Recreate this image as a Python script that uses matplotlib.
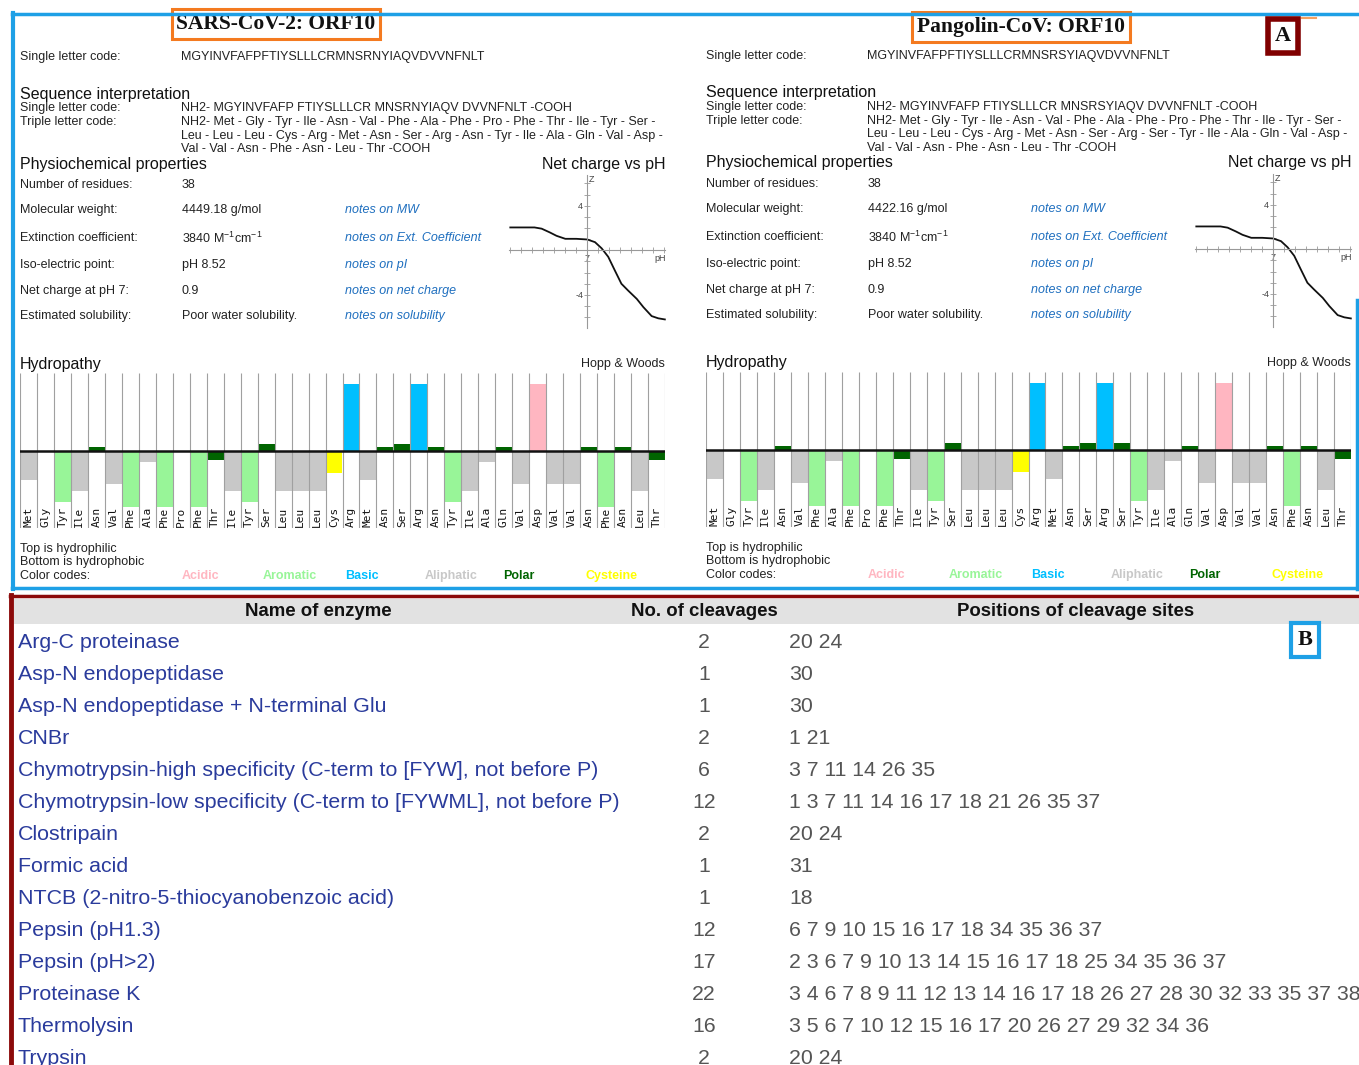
import numpy as np
import matplotlib.pyplot as plt
from matplotlib.patches import Rectangle

plt.rcParams['font.family'] = ['Liberation Sans', 'DejaVu Sans']

W, H = 1359, 1065

# sequences of the two ORF10 proteins
sars_seq = "MGYINVFAFPFTIYSLLLCRMNSRNYIAQVDVVNFNLT"
pang_seq = "MGYINVFAFPFTIYSLLLCRMNSRSYIAQVDVVNFNLT"
sars_mw = "4449.18 g/mol"
pang_mw = "4422.16 g/mol"

three_letter = {'M': 'Met', 'G': 'Gly', 'Y': 'Tyr', 'I': 'Ile', 'N': 'Asn', 'V': 'Val',
                'F': 'Phe', 'A': 'Ala', 'P': 'Pro', 'T': 'Thr', 'S': 'Ser', 'L': 'Leu',
                'C': 'Cys', 'R': 'Arg', 'Q': 'Gln', 'D': 'Asp'}

# Hopp & Woods hydropathy values
hopp_woods = {'Met': -1.3, 'Gly': 0.0, 'Tyr': -2.3, 'Ile': -1.8, 'Asn': 0.2, 'Val': -1.5,
              'Phe': -2.5, 'Ala': -0.5, 'Pro': 0.0, 'Thr': -0.4, 'Ser': 0.3, 'Leu': -1.8,
              'Cys': -1.0, 'Arg': 3.0, 'Gln': 0.2, 'Asp': 3.0}
residue_class = {'Met': 'Aliphatic', 'Gly': 'Aliphatic', 'Tyr': 'Aromatic', 'Ile': 'Aliphatic',
                 'Asn': 'Polar', 'Val': 'Aliphatic', 'Phe': 'Aromatic', 'Ala': 'Aliphatic',
                 'Pro': 'Aliphatic', 'Thr': 'Polar', 'Ser': 'Polar', 'Leu': 'Aliphatic',
                 'Cys': 'Cysteine', 'Arg': 'Basic', 'Gln': 'Polar', 'Asp': 'Acidic'}
class_names = ['Acidic', 'Aromatic', 'Basic', 'Aliphatic', 'Polar', 'Cysteine']
class_colors = {'Acidic': '#ffb6c1', 'Aromatic': '#98f598', 'Basic': '#00bfff',
                'Aliphatic': '#c8c8c8', 'Polar': '#006400', 'Cysteine': '#ffff00'}

prop_labels = ['Number of residues:', 'Molecular weight:', 'Extinction coefficient:',
               'Iso-electric point:', 'Net charge at pH 7:', 'Estimated solubility:']
prop_notes = ['', 'notes on MW', 'notes on Ext. Coefficient', 'notes on pI',
              'notes on net charge', 'notes on solubility']
ext_coef = r"3840 M$^{\mathregular{-1}}$cm$^{\mathregular{-1}}$"

# net charge vs pH curve (same for both)
ph_points = [0.0, 2.2, 2.85, 3.6, 4.2, 5.0, 6.0, 7.0, 7.7, 8.3, 8.9, 9.5, 10.1, 10.7, 11.5, 12.1, 12.85, 13.45, 14.05]
z_points = [2.05, 2.05, 1.94, 1.6, 1.3, 1.03, 1.03, 0.97, 0.73, 0.18, -0.58, -1.8, -3.0, -3.6, -4.36, -5.1, -5.9, -6.1, -6.2]

# enzyme cleavage table
enzymes = ['Arg-C proteinase', 'Asp-N endopeptidase', 'Asp-N endopeptidase + N-terminal Glu', 'CNBr',
           'Chymotrypsin-high specificity (C-term to [FYW], not before P)',
           'Chymotrypsin-low specificity (C-term to [FYWML], not before P)',
           'Clostripain', 'Formic acid', 'NTCB (2-nitro-5-thiocyanobenzoic acid)', 'Pepsin (pH1.3)',
           'Pepsin (pH>2)', 'Proteinase K', 'Thermolysin', 'Trypsin']
n_cleavages = [2, 1, 1, 2, 6, 12, 2, 1, 1, 12, 17, 22, 16, 2]
cleavage_sites = ['20 24', '30', '30', '1 21', '3 7 11 14 26 35', '1 3 7 11 14 16 17 18 21 26 35 37',
                  '20 24', '31', '18', '6 7 9 10 15 16 17 18 34 35 36 37',
                  '2 3 6 7 9 10 13 14 15 16 17 18 25 34 35 36 37',
                  '3 4 6 7 8 9 11 12 13 14 16 17 18 26 27 28 30 32 33 35 37 38',
                  '3 5 6 7 10 12 15 16 17 20 26 27 29 32 34 36', '20 24']

fig = plt.figure(figsize=(W / 100, H / 100), dpi=100)
base = fig.add_axes([0, 0, 1, 1])
base.set_xlim(0, W)
base.set_ylim(H, 0)
base.axis('off')


def fig_axes(x0, y0, x1, y1):
    return fig.add_axes([x0 / W, 1 - y1 / H, (x1 - x0) / W, (y1 - y0) / H])


TXT = '#222222'
LINK = '#1f6fbf'


def draw_panel(x0, y0, title, title_x, title_y, seq, mw):
    res = [three_letter[c] for c in seq]
    base.text(title_x, title_y, title, family='Liberation Serif', fontweight='bold', fontsize=15.5,
              ha='center', va='center', color='#111',
              bbox=dict(boxstyle='square,pad=0.22', fc='white', ec='#f47a20', lw=2.2), zorder=3)

    fs = 9
    hfs = 11.5
    base.text(x0 + 20, y0 + 57, 'Single letter code:', fontsize=fs, va='center', color=TXT)
    base.text(x0 + 181, y0 + 57, seq, fontsize=fs, va='center', color=TXT)

    base.text(x0 + 20, y0 + 94, 'Sequence interpretation', fontsize=hfs, va='center', color='#111')
    groups = ' '.join(seq[i:i + 10] for i in range(0, len(seq), 10))
    base.text(x0 + 20, y0 + 108, 'Single letter code:', fontsize=fs, va='center', color=TXT)
    base.text(x0 + 181, y0 + 108, 'NH2- ' + groups + ' -COOH', fontsize=fs, va='center', color=TXT)
    base.text(x0 + 20, y0 + 122, 'Triple letter code:', fontsize=fs, va='center', color=TXT)
    lines = ['NH2- ' + ' - '.join(res[0:15]) + ' -',
             ' - '.join(res[15:31]) + ' -',
             ' - '.join(res[31:]) + ' -COOH']
    for k, ln in enumerate(lines):
        base.text(x0 + 181, y0 + 122 + 13.5 * k, ln, fontsize=fs, va='center', color=TXT)

    base.text(x0 + 20, y0 + 164, 'Physiochemical properties', fontsize=hfs, va='center', color='#111')
    base.text(x0 + 665, y0 + 164, 'Net charge vs pH', fontsize=hfs, va='center', ha='right', color='#111')
    values = [str(len(seq)), mw, ext_coef, 'pH 8.52', '0.9', 'Poor water solubility.']
    prop_y = [185, 210, 238, 265, 291, 316]
    for lab, val, note, yy in zip(prop_labels, values, prop_notes, prop_y):
        base.text(x0 + 20, y0 + yy, lab, fontsize=fs, va='center', color=TXT)
        base.text(x0 + 182, y0 + yy, val, fontsize=fs, va='center', color=TXT)
        if note:
            base.text(x0 + 345, y0 + yy, note, fontsize=fs, va='center', color=LINK, style='italic')

    # net charge vs pH
    vx, hz = x0 + 587.3, y0 + 250.3
    px, pz = 11.0, 11.15
    nc = fig_axes(vx - 7.6 * px, hz - 7.1 * pz, vx + 7.4 * px, hz + 7.4 * pz)
    nc.set_xlim(-0.6, 14.4)
    nc.set_ylim(-7.4, 7.1)
    nc.patch.set_alpha(0)
    for s in ['top', 'right']:
        nc.spines[s].set_visible(False)
    nc.spines['left'].set_position(('data', 7))
    nc.spines['bottom'].set_position(('data', 0))
    nc.spines['left'].set_bounds(-6.95, 6.75)
    nc.spines['bottom'].set_bounds(-0.1, 14.1)
    for s in ['left', 'bottom']:
        nc.spines[s].set_color('#999999')
        nc.spines[s].set_linewidth(0.8)
    nc.set_xticks(range(0, 15))
    nc.set_xticklabels(['7' if t == 7 else '' for t in range(0, 15)])
    nc.set_yticks(range(-6, 7))
    nc.set_yticklabels([{4: '4', -4: '-4'}.get(t, '') for t in range(-6, 7)])
    nc.tick_params(direction='inout', length=4, width=0.6, color='#999999', labelsize=6.5,
                   labelcolor='#444444', pad=1)
    nc.text(7.15, 6.75, 'Z', fontsize=6.5, color='#444', va='top')
    nc.text(13.1, -0.3, 'pH', fontsize=6.5, color='#444', va='top')
    nc.plot(ph_points, z_points, color='#111111', lw=1.3)

    # hydropathy
    base.text(x0 + 20, y0 + 364, 'Hydropathy', fontsize=hfs, va='center', color='#111')
    base.text(x0 + 665, y0 + 364, 'Hopp & Woods', fontsize=fs, va='center', ha='right', color=TXT)
    unit = 22.3
    top, bot = (451 - 373) / unit, -(528 - 451) / unit
    hy = fig_axes(x0 + 20, y0 + 373, x0 + 665, y0 + 528)
    hy.set_xlim(0, len(res))
    hy.set_ylim(bot, top)
    hy.axis('off')
    vals = [hopp_woods[r] for r in res]
    cols = [class_colors[residue_class[r]] for r in res]
    hy.bar(np.arange(len(res)) + 0.5, vals, width=1.0, color=cols, edgecolor='none')
    hy.vlines(range(len(res) + 1), bot, top, color='#a0a0a0', lw=0.8)
    hy.axhline(0, color='#111111', lw=1.8)
    for i, r in enumerate(res):
        hy.text(i + 0.5, bot + 0.05, r, rotation=90, ha='center', va='bottom',
                family='DejaVu Sans Mono', fontsize=8, color='#111')

    base.text(x0 + 20, y0 + 549, 'Top is hydrophilic', fontsize=fs, va='center', color=TXT)
    base.text(x0 + 20, y0 + 562, 'Bottom is hydrophobic', fontsize=fs, va='center', color=TXT)
    base.text(x0 + 20, y0 + 576, 'Color codes:', fontsize=fs, va='center', color=TXT)
    legend_x = [182, 263, 345, 425, 503, 585]
    for name, lx in zip(class_names, legend_x):
        base.text(x0 + lx, y0 + 576, name, fontsize=9, fontweight='bold', va='center',
                  color=class_colors[name])


draw_panel(0, 0, 'SARS-CoV-2: ORF10', 276, 24, sars_seq, sars_mw)
draw_panel(686, -1, 'Pangolin-CoV: ORF10', 1021, 27, pang_seq, pang_mw)

# panel A frame
BLUE = '#1ea0e6'
base.plot([12, W], [14, 14], color=BLUE, lw=2.5, zorder=5)
base.plot([12, W], [588, 588], color=BLUE, lw=2.5, zorder=5)
base.plot([13, 13], [13, 589], color=BLUE, lw=3, zorder=5)
base.plot([1357, 1357], [300, 589], color=BLUE, lw=2.5, zorder=5)
base.plot([1302, 1316], [18, 18], color='#f4a060', lw=1.5, zorder=5)
base.text(1283, 36, 'A', family='Liberation Serif', fontweight='bold', fontsize=16, ha='center',
          va='center', color='#111',
          bbox=dict(boxstyle='square,pad=0.3', fc='white', ec='#800000', lw=4), zorder=6)

# panel B table
RED = '#8b0a0a'
base.add_patch(Rectangle((14, 599), W - 14, 25, fc='#e2e2e2', ec='none'))
base.plot([10, W], [596, 596], color=RED, lw=2.5, zorder=5)
base.plot([11, 11], [595, H], color=RED, lw=3.5, zorder=5)
hfs = 13.4
base.text(318, 611, 'Name of enzyme', fontsize=hfs, fontweight='bold', ha='center', va='center', color='#111')
base.text(704, 611, 'No. of cleavages', fontsize=hfs, fontweight='bold', ha='center', va='center', color='#111')
base.text(1076, 611, 'Positions of cleavage sites', fontsize=hfs, fontweight='bold', ha='center',
          va='center', color='#111')
for i, (name, n, sites) in enumerate(zip(enzymes, n_cleavages, cleavage_sites)):
    yy = 642 + 32 * i
    base.text(18, yy, name, fontsize=15.4, va='center', color='#2a3b9c')
    base.text(704, yy, str(n), fontsize=15.3, va='center', ha='center', color='#555555')
    base.text(789, yy, sites, fontsize=15.3, va='center', color='#555555')

base.text(1305, 640, 'B', family='Liberation Serif', fontweight='bold', fontsize=16, ha='center',
          va='center', color='#111',
          bbox=dict(boxstyle='square,pad=0.3', fc='white', ec=BLUE, lw=3), zorder=6)

fig.savefig('out.png', dpi=100)
